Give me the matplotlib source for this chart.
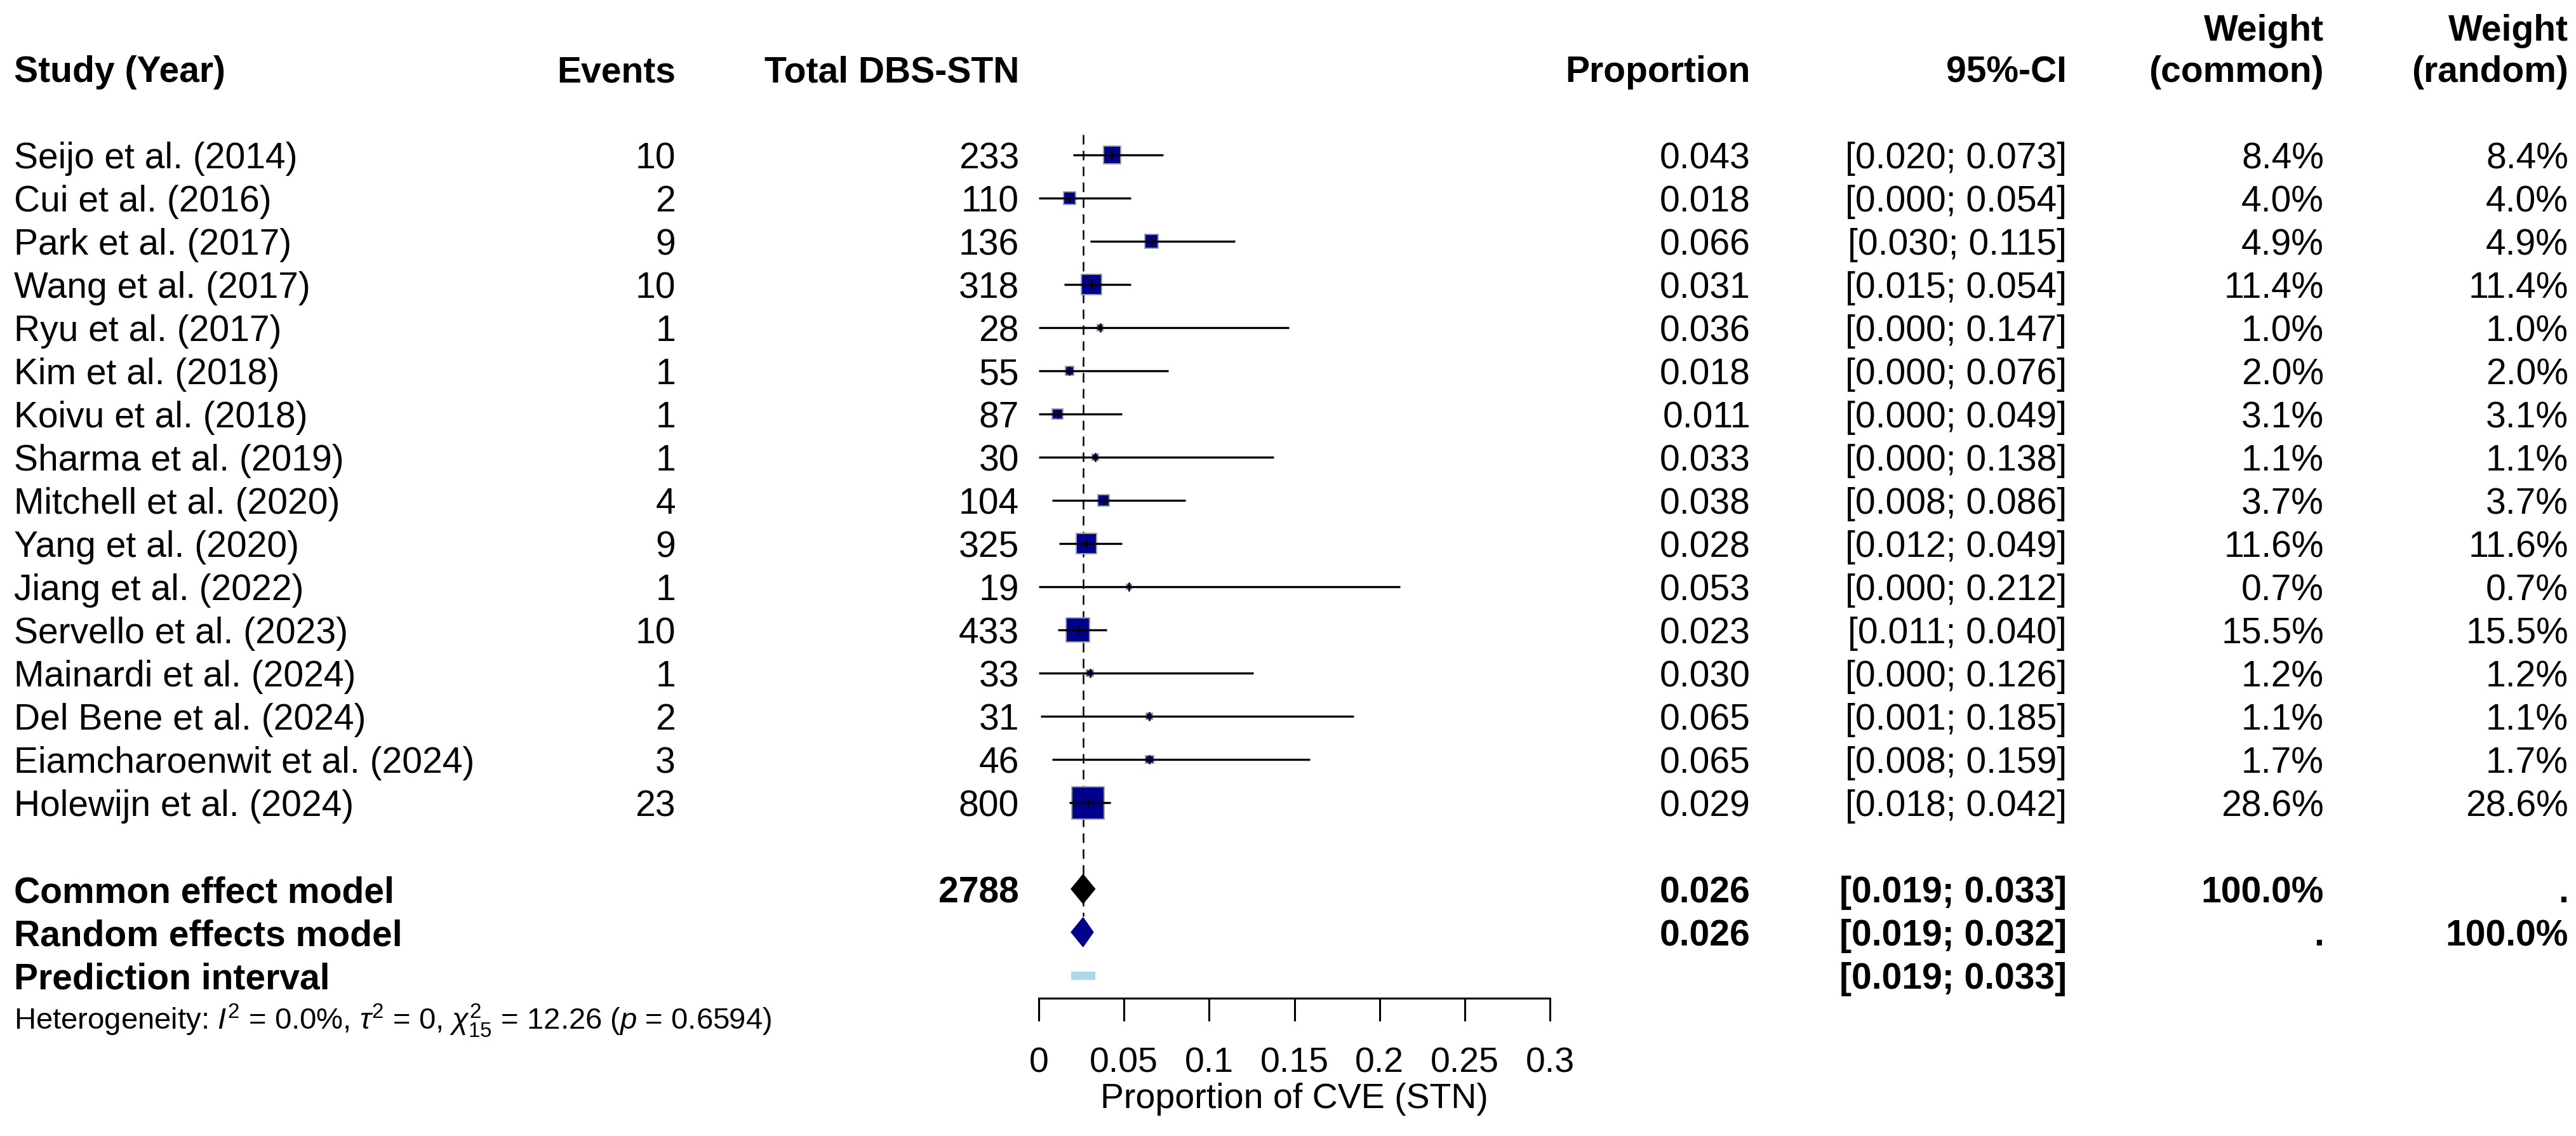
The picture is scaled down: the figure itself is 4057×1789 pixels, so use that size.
import matplotlib
matplotlib.use("Agg")
import matplotlib.pyplot as plt
import numpy as np

plt.rcParams["font.family"] = ["Liberation Sans", "DejaVu Sans"]
plt.rcParams["mathtext.fontset"] = "custom"
plt.rcParams["mathtext.rm"] = "Liberation Sans"
plt.rcParams["mathtext.it"] = "Liberation Sans:italic"
plt.rcParams["mathtext.bf"] = "Liberation Sans:bold"

# data
studies = [
    "Seijo et al. (2014)", "Cui et al. (2016)", "Park et al. (2017)", "Wang et al. (2017)",
    "Ryu et al. (2017)", "Kim et al. (2018)", "Koivu et al. (2018)", "Sharma et al. (2019)",
    "Mitchell et al. (2020)", "Yang et al. (2020)", "Jiang et al. (2022)", "Servello et al. (2023)",
    "Mainardi et al. (2024)", "Del Bene et al. (2024)", "Eiamcharoenwit et al. (2024)",
    "Holewijn et al. (2024)",
]
events = [10, 2, 9, 10, 1, 1, 1, 1, 4, 9, 1, 10, 1, 2, 3, 23]
totals = [233, 110, 136, 318, 28, 55, 87, 30, 104, 325, 19, 433, 33, 31, 46, 800]
proportions = [0.043, 0.018, 0.066, 0.031, 0.036, 0.018, 0.011, 0.033,
               0.038, 0.028, 0.053, 0.023, 0.030, 0.065, 0.065, 0.029]
ci_lower = [0.020, 0.000, 0.030, 0.015, 0.000, 0.000, 0.000, 0.000,
            0.008, 0.012, 0.000, 0.011, 0.000, 0.001, 0.008, 0.018]
ci_upper = [0.073, 0.054, 0.115, 0.054, 0.147, 0.076, 0.049, 0.138,
            0.086, 0.049, 0.212, 0.040, 0.126, 0.185, 0.159, 0.042]
weight_common = [8.4, 4.0, 4.9, 11.4, 1.0, 2.0, 3.1, 1.1, 3.7, 11.6, 0.7, 15.5, 1.2, 1.1, 1.7, 28.6]
weight_random = [8.4, 4.0, 4.9, 11.4, 1.0, 2.0, 3.1, 1.1, 3.7, 11.6, 0.7, 15.5, 1.2, 1.1, 1.7, 28.6]

total_n = 2788
common_est, common_lower, common_upper = 0.026, 0.019, 0.033
random_est, random_lower, random_upper = 0.026, 0.019, 0.032
pred_lower, pred_upper = 0.019, 0.033

x_ticks = [0, 0.05, 0.1, 0.15, 0.2, 0.25, 0.3]
x_tick_labels = ["0", "0.05", "0.1", "0.15", "0.2", "0.25", "0.3"]
x_label = "Proportion of CVE (STN)"
het_text = (r"Heterogeneity: $I^2$ = 0.0%, $\tau^2$ = 0, $\chi^2_{15}$ = 12.26 "
            r"($p$ = 0.6594)")

# layout in output pixels
W, H = 4057, 1789
ROW0, ROW_H = 244, 68          # first study row, row pitch
AX_L, AX_R, AX_Y = 1636, 2441, 1572
COL_STUDY, COL_EVENTS, COL_TOTAL = 22, 1064, 1605
COL_PROP, COL_CI, COL_WC, COL_WR = 2757, 3255, 3660, 4045
FS = 41
BASE = 0.31                    # baseline offset (rows) to centre text on a row

n = len(studies)
row_common, row_random, row_pred, row_het = n + 1, n + 2, n + 3, n + 4

fig = plt.figure(figsize=(W / 100, H / 100), dpi=100)
tx = fig.add_axes([0, 0, 1, 1])
tx.set_xlim(0, W)
tx.set_ylim((H - ROW0) / ROW_H, -ROW0 / ROW_H)
tx.axis("off")

ax = fig.add_axes([AX_L / W, (H - AX_Y) / H, (AX_R - AX_L) / W, AX_Y / H])
ax.set_facecolor("none")
ax.set_xlim(0, 0.3)
ax.set_ylim((AX_Y - ROW0) / ROW_H, -ROW0 / ROW_H)
for side in ("top", "left", "right"):
    ax.spines[side].set_visible(False)
ax.spines["bottom"].set_linewidth(2.2)
ax.set_yticks([])
ax.set_xticks(x_ticks)
ax.set_xticklabels(x_tick_labels)
ax.tick_params(axis="x", direction="out", length=26, width=2.2, pad=29, labelsize=40)
ax.set_xlabel(x_label, fontsize=40, labelpad=3)


def put(x, row, s, ha="right", bold=False, size=FS, base=BASE):
    tx.text(x, row + base, s, ha=ha, va="baseline", fontsize=size,
            fontweight="bold" if bold else "normal")


# header
put(COL_STUDY, -2, "Study (Year)", ha="left", bold=True)
put(COL_EVENTS, -2, "Events", bold=True)
put(COL_TOTAL, -2, "Total DBS-STN", bold=True)
put(COL_PROP, -2, "Proportion", bold=True)
put(COL_CI, -2, "95%-CI", bold=True)
put(COL_WC, -2.95, "Weight", bold=True)
put(COL_WC, -2, "(common)", bold=True)
put(COL_WR, -2.95, "Weight", bold=True)
put(COL_WR, -2, "(random)", bold=True)

# study rows
rows = np.arange(n)
for i in range(n):
    put(COL_STUDY, i, studies[i], ha="left")
    put(COL_EVENTS, i, str(events[i]))
    put(COL_TOTAL, i, str(totals[i]))
    put(COL_PROP, i, f"{proportions[i]:.3f}")
    put(COL_CI, i, f"[{ci_lower[i]:.3f}; {ci_upper[i]:.3f}]")
    put(COL_WC, i, f"{weight_common[i]:.1f}%")
    put(COL_WR, i, f"{weight_random[i]:.1f}%")

# summary rows
put(COL_STUDY, row_common, "Common effect model", ha="left", bold=True)
put(COL_TOTAL, row_common, str(total_n), bold=True)
put(COL_PROP, row_common, f"{common_est:.3f}", bold=True)
put(COL_CI, row_common, f"[{common_lower:.3f}; {common_upper:.3f}]", bold=True)
put(COL_WC, row_common, "100.0%", bold=True)
put(COL_WR, row_common, ".", bold=True)

put(COL_STUDY, row_random, "Random effects model", ha="left", bold=True)
put(COL_PROP, row_random, f"{random_est:.3f}", bold=True)
put(COL_CI, row_random, f"[{random_lower:.3f}; {random_upper:.3f}]", bold=True)
put(COL_WC, row_random, ".", bold=True)
put(COL_WR, row_random, "100.0%", bold=True)

put(COL_STUDY, row_pred, "Prediction interval", ha="left", bold=True)
put(COL_CI, row_pred, f"[{pred_lower:.3f}; {pred_upper:.3f}]", bold=True)

put(COL_STUDY, row_het, het_text, ha="left", size=34, base=0.25)

# forest marks
ax.vlines(common_est, -0.47, row_common + 0.63, color="black", lw=1.8,
          linestyles=(0, (6, 4)), zorder=1)
side_pt = 51 * 0.72 * np.sqrt(np.array(weight_common) / 28.6)
ax.scatter(proportions, rows, s=side_pt ** 2, marker="s", color="#00008B",
           edgecolor="#A0A0A0", linewidths=1.5, zorder=3, clip_on=False)
ax.hlines(rows, ci_lower, ci_upper, color="black", lw=2.4, zorder=4)
ax.vlines(proportions, rows - 0.1, rows + 0.1, color="black", lw=2, zorder=5)

half_h = 23 / ROW_H
ax.fill([common_lower, common_est, common_upper, common_est],
        [row_common, row_common - half_h, row_common, row_common + half_h],
        color="black", zorder=3)
ax.fill([random_lower, random_est, random_upper, random_est],
        [row_random, row_random - half_h, row_random, row_random + half_h],
        color="#00008B", zorder=3)
ax.barh(row_pred, pred_upper - pred_lower, left=pred_lower, height=13 / ROW_H,
        color="#ADD8E6", zorder=3)

fig.savefig("out.png", dpi=100)
